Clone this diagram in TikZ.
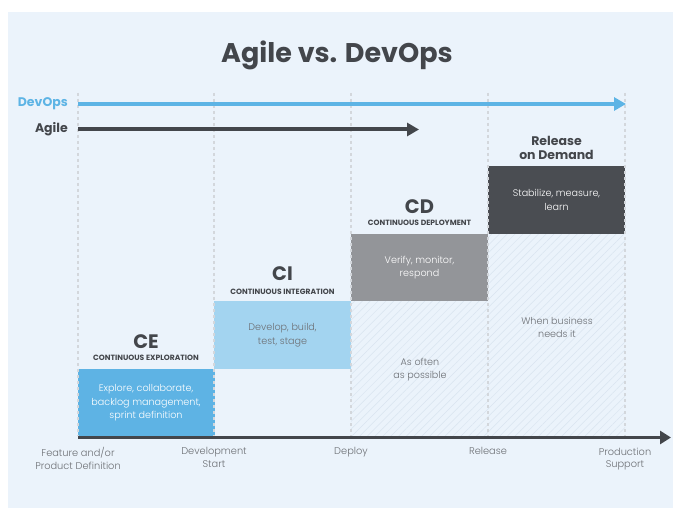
\documentclass[tikz,border=0pt]{standalone}
\usepackage{fontspec}
\setmainfont{Poppins}
\newfontfamily\lightfont{Poppins Light}
\usetikzlibrary{arrows.meta,patterns.meta}

\definecolor{panel}{HTML}{EBF3FB}
\definecolor{devblue}{HTML}{5DB4E5}
\definecolor{ceblue}{HTML}{5EB3E4}
\definecolor{ciblue}{HTML}{A3D4F0}
\definecolor{cdgray}{HTML}{939599}
\definecolor{reldark}{HTML}{4A4D52}
\definecolor{ink}{HTML}{43464B}
\definecolor{soft}{HTML}{6D7075}
\definecolor{hatch}{HTML}{D9E4EF}
\definecolor{guide}{HTML}{D3D7DC}

\tikzset{
  heading/.style={font=\bfseries\fontsize{27}{32}\selectfont, text=ink, inner sep=0},
  rowlabel/.style={font=\bfseries\fontsize{12.5}{14}\selectfont, anchor=east, inner sep=0},
  phasebox/.style={minimum width=137pt, inner sep=0, align=center,
    font=\lightfont\fontsize{9.6}{13.5}\selectfont},
  phasetag/.style={font=\bfseries\fontsize{19.5}{22}\selectfont, text=ink, inner sep=0},
  phasesub/.style={font=\bfseries\fontsize{7.6}{9}\selectfont, text=ink, inner sep=0},
  reltag/.style={font=\bfseries\fontsize{12.5}{13.5}\selectfont, text=ink, inner sep=0, align=center},
  note/.style={font=\lightfont\fontsize{9.6}{13.5}\selectfont, text=soft, inner sep=0, align=center},
  ticklabel/.style={font=\lightfont\fontsize{9.8}{12.5}\selectfont, text=soft, inner sep=0, align=center, anchor=north},
  guideline/.style={draw=guide, line width=1.1pt, dash pattern=on 3pt off 3pt},
  hatched/.style={pattern={Lines[angle=45,distance=5.5pt,line width=0.5pt]}, pattern color=hatch},
  devarrow/.style={draw=devblue, line width=4pt, -{Triangle[length=12pt,width=13pt]}},
  agilearrow/.style={draw=ink, line width=4pt, -{Triangle[length=12pt,width=13pt]}},
  axisarrow/.style={draw=ink, line width=3.6pt, -{Triangle[length=11pt,width=13pt]}},
}

\begin{document}
\begin{tikzpicture}[x=1pt,y=-1pt]
\useasboundingbox (0,0) rectangle (673,508);
\fill[white] (0,0) rectangle (673,508);
\fill[panel] (8,12) rectangle (673,508);

% title
\node[heading] (title) at (337,55) {Agile vs. DevOps};

% hatched release-frequency zones
\fill[hatched] (351,301) rectangle (488,437);
\fill[hatched] (488,234) rectangle (625,437);

% phase boxes
\node[phasebox, fill=ceblue, minimum height=68pt, text=white] (ce) at (146,403) {Explore, collaborate,\\backlog management,\\sprint definition};
\node[phasebox, fill=ciblue, minimum height=68pt, text=soft] (ci) at (282.5,335) {Develop, build,\\test, stage};
\node[phasebox, fill=cdgray, minimum height=67pt, text=white] (cd) at (419.5,267.5) {Verify, monitor,\\respond};
\node[phasebox, fill=reldark, minimum height=68pt, text=white] (rod) at (556.5,200) {Stabilize, measure,\\learn};

% phase headings
\node[phasetag] (ceT) at (146,342) {CE};
\node[phasesub] (ceS) at (146,358) {CONTINUOUS EXPLORATION};
\node[phasetag] (ciT) at (282.5,274) {CI};
\node[phasesub] (ciS) at (282.5,291.5) {CONTINUOUS INTEGRATION};
\node[phasetag] (cdT) at (419.5,207) {CD};
\node[phasesub] (cdS) at (419.5,223) {CONTINUOUS DEPLOYMENT};
\node[reltag] (rodT) at (556.5,148) {Release\\on Demand};

% frequency notes
\node[note] (often) at (420,369.5) {As often\\as possible};
\node[note] (biz) at (557,327.5) {When business\\needs it};

% milestone guides
\foreach \i/\x in {1/78,2/214,3/351,4/488,5/625}{
  \coordinate (g\i top) at (\x,93);
  \coordinate (g\i bot) at (\x,436);
  \draw[guideline] (g\i top) -- (g\i bot);
}

% methodology spans
\node[rowlabel, text=devblue] (devL) at (68,104) {DevOps};
\node[rowlabel, text=ink] (agL) at (68,129.5) {Agile};
\coordinate (devS) at (78,104);
\coordinate (devE) at (626,104);
\coordinate (agS) at (78,129.5);
\coordinate (agE) at (419,129.5);
\draw[devarrow] (devS) -- (devE);
\draw[agilearrow] (agS) -- (agE);

% timeline axis
\coordinate (axS) at (78,437.5);
\coordinate (axE) at (671,437.5);
\draw[axisarrow] (axS) -- (axE);

% milestones
\node[ticklabel] (m1) at (78,447.5) {Feature and/or\\Product Definition};
\node[ticklabel] (m2) at (214,447.5) {Development\\Start};
\node[ticklabel] (m3) at (351,447.5) {Deploy};
\node[ticklabel] (m4) at (488,447.5) {Release};
\node[ticklabel] (m5) at (625,447.5) {Production\\Support};
\end{tikzpicture}
\end{document}
